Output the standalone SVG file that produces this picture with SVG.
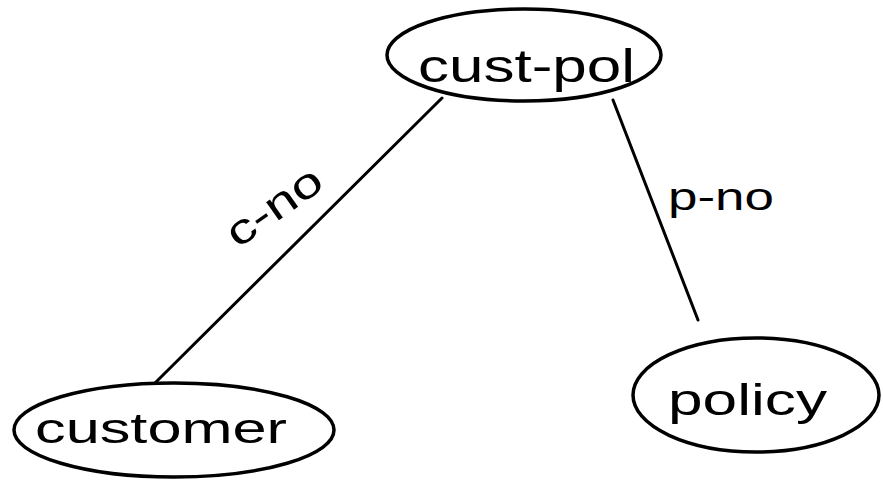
<svg xmlns="http://www.w3.org/2000/svg" width="883" height="482" viewBox="0 0 883 482">
<style>
.node{fill:#fff;stroke:#000;stroke-width:3.5}
.lbl{font-family:"Liberation Sans",Arial,sans-serif;fill:#000}
.edge{stroke:#000;stroke-width:3;fill:none;stroke-linecap:round}
</style>
<rect width="883" height="482" fill="#fff"/>
<g id="connectors">
<line class="edge" x1="442" y1="98" x2="155" y2="383"/>
<line class="edge" x1="613" y1="100" x2="698" y2="320"/>
<text class="lbl" font-size="42" text-anchor="middle" textLength="108" lengthAdjust="spacingAndGlyphs" transform="translate(282,218) rotate(-35)">c-no</text>
<text class="lbl" font-size="38" x="668" y="210" textLength="106" lengthAdjust="spacingAndGlyphs">p-no</text>
</g>
<g id="cust-pol">
<ellipse class="node" cx="524" cy="55" rx="137" ry="46"/>
<text class="lbl" font-size="46" x="418" y="82" textLength="217" lengthAdjust="spacingAndGlyphs">cust-pol</text>
</g>
<g id="customer">
<ellipse class="node" cx="174" cy="430" rx="160" ry="47"/>
<text class="lbl" font-size="42" x="35" y="443" textLength="252" lengthAdjust="spacingAndGlyphs">customer</text>
</g>
<g id="policy">
<ellipse class="node" cx="756" cy="395" rx="123" ry="57"/>
<text class="lbl" font-size="44" x="668" y="415" textLength="159" lengthAdjust="spacingAndGlyphs">policy</text>
</g>
</svg>
